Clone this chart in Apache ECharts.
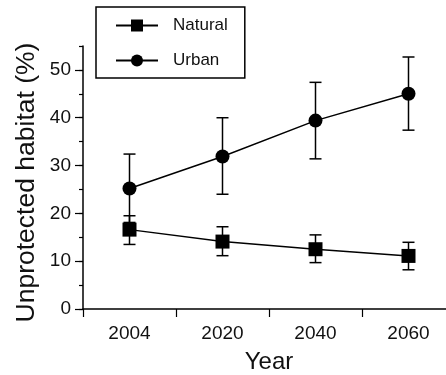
<!DOCTYPE html>
<html>
<head>
<meta charset="utf-8">
<script src="https://cdn.jsdelivr.net/npm/echarts@6/dist/echarts.min.js"></script>
<style>
html,body{margin:0;padding:0;background:#fff;}
#chart{width:446px;height:375px;}
</style>
</head>
<body>
<div id="chart"></div>
<script>
// ---- data ----
var years = ['2004', '2020', '2040', '2060'];
var natural = [16.6, 14.1, 12.5, 11.1];
var naturalLow = [13.5, 11.15, 9.7, 8.2];
var naturalHigh = [19.5, 17.2, 15.5, 13.95];
var urban = [25.2, 31.9, 39.4, 45.0];
var urbanLow = [18.1, 24.0, 31.4, 37.4];
var urbanHigh = [32.4, 40.0, 47.4, 52.7];
var yTickLabels = [0, 10, 20, 30, 40, 50];

// ---- layout ----
var FONT = 'Arial, "Liberation Sans", sans-serif';
var INK = '#111';
var yMax = 55, yMajorMax = 50;
var gLeft = 83, gTop = 46, gWidth = 372, gHeight = 263;
var g2Top = gTop + gHeight * (yMax - yMajorMax) / yMax;
var g2Height = gHeight * yMajorMax / yMax;

function errData(lo, hi) {
  return lo.map(function (v, i) { return [i, v, hi[i]]; });
}
function renderErr(params, api) {
  var i = api.value(0);
  var lo = api.coord([i, api.value(1)]);
  var hi = api.coord([i, api.value(2)]);
  var w = 6;
  var st = { stroke: '#000', lineWidth: 1.5 };
  return {
    type: 'group',
    children: [
      { type: 'line', shape: { x1: lo[0], y1: lo[1], x2: hi[0], y2: hi[1] }, style: st },
      { type: 'line', shape: { x1: hi[0] - w, y1: hi[1], x2: hi[0] + w, y2: hi[1] }, style: st },
      { type: 'line', shape: { x1: lo[0] - w, y1: lo[1], x2: lo[0] + w, y2: lo[1] }, style: st }
    ]
  };
}

var chart = echarts.init(document.getElementById('chart'), null, { renderer: 'canvas' });
chart.setOption({
  animation: false,
  backgroundColor: '#fff',
  textStyle: { fontFamily: FONT },
  legend: {
    data: ['Natural', 'Urban'],
    orient: 'vertical',
    left: 96, top: 7,
    itemWidth: 42, itemHeight: 15, itemGap: 18,
    padding: [10, 17, 9, 19],
    borderColor: '#000', borderWidth: 1.5,
    textStyle: { fontFamily: FONT, fontSize: 17, color: INK, padding: [0, 0, 0, 10] },
    selectedMode: false
  },
  grid: [
    { left: gLeft, top: gTop, width: gWidth, height: gHeight, containLabel: false, outerBoundsMode: 'none' },
    { left: gLeft, top: g2Top, width: gWidth, height: g2Height, containLabel: false, outerBoundsMode: 'none' }
  ],
  xAxis: [
    {
      type: 'category', gridIndex: 0, data: years, boundaryGap: true,
      axisLine: { lineStyle: { color: '#000', width: 1.5 } },
      axisTick: { show: true, length: 8, inside: false, lineStyle: { color: '#000', width: 1.2 } },
      axisLabel: { fontSize: 19, color: INK, margin: 15, fontFamily: FONT },
      name: 'Year', nameLocation: 'middle', nameGap: 41,
      nameTextStyle: { fontSize: 24, color: INK, fontFamily: FONT },
      splitLine: { show: false }
    },
    { type: 'category', gridIndex: 1, data: years, show: false }
  ],
  yAxis: [
    {
      type: 'value', gridIndex: 0, min: 0, max: yMax, interval: 5,
      axisLine: { show: true, lineStyle: { color: '#000', width: 1.5 } },
      axisTick: { show: true, length: 4, lineStyle: { color: '#000', width: 1.2 } },
      axisLabel: { show: false },
      splitLine: { show: false },
      name: 'Unprotected habitat (%)', nameLocation: 'middle', nameGap: 43,
      nameTextStyle: { fontSize: 26.5, color: INK, fontFamily: FONT, padding: [0, 10, 0, 0] }
    },
    {
      type: 'value', gridIndex: 1, min: 0, max: yMajorMax, interval: 10,
      axisLine: { show: false },
      axisTick: { show: true, length: 8, lineStyle: { color: '#000', width: 1.2 } },
      axisLabel: {
        fontSize: 19, color: INK, margin: 12, fontFamily: FONT,
        formatter: function (v) { return yTickLabels.indexOf(v) >= 0 ? String(v) : ''; }
      },
      splitLine: { show: false }
    }
  ],
  series: [
    {
      name: 'Natural err', type: 'custom', xAxisIndex: 0, yAxisIndex: 0, z: 1,
      data: errData(naturalLow, naturalHigh), renderItem: renderErr, clip: false
    },
    {
      name: 'Urban err', type: 'custom', xAxisIndex: 0, yAxisIndex: 0, z: 1,
      data: errData(urbanLow, urbanHigh), renderItem: renderErr, clip: false
    },
    {
      name: 'Natural', type: 'line', xAxisIndex: 0, yAxisIndex: 0, z: 3,
      data: natural, symbol: 'rect', symbolSize: 14,
      lineStyle: { color: '#000', width: 1.5 },
      itemStyle: { color: '#000' }
    },
    {
      name: 'Urban', type: 'line', xAxisIndex: 0, yAxisIndex: 0, z: 3,
      data: urban, symbol: 'circle', symbolSize: 14,
      lineStyle: { color: '#000', width: 1.5 },
      itemStyle: { color: '#000' }
    }
  ]
});
</script>
</body>
</html>
